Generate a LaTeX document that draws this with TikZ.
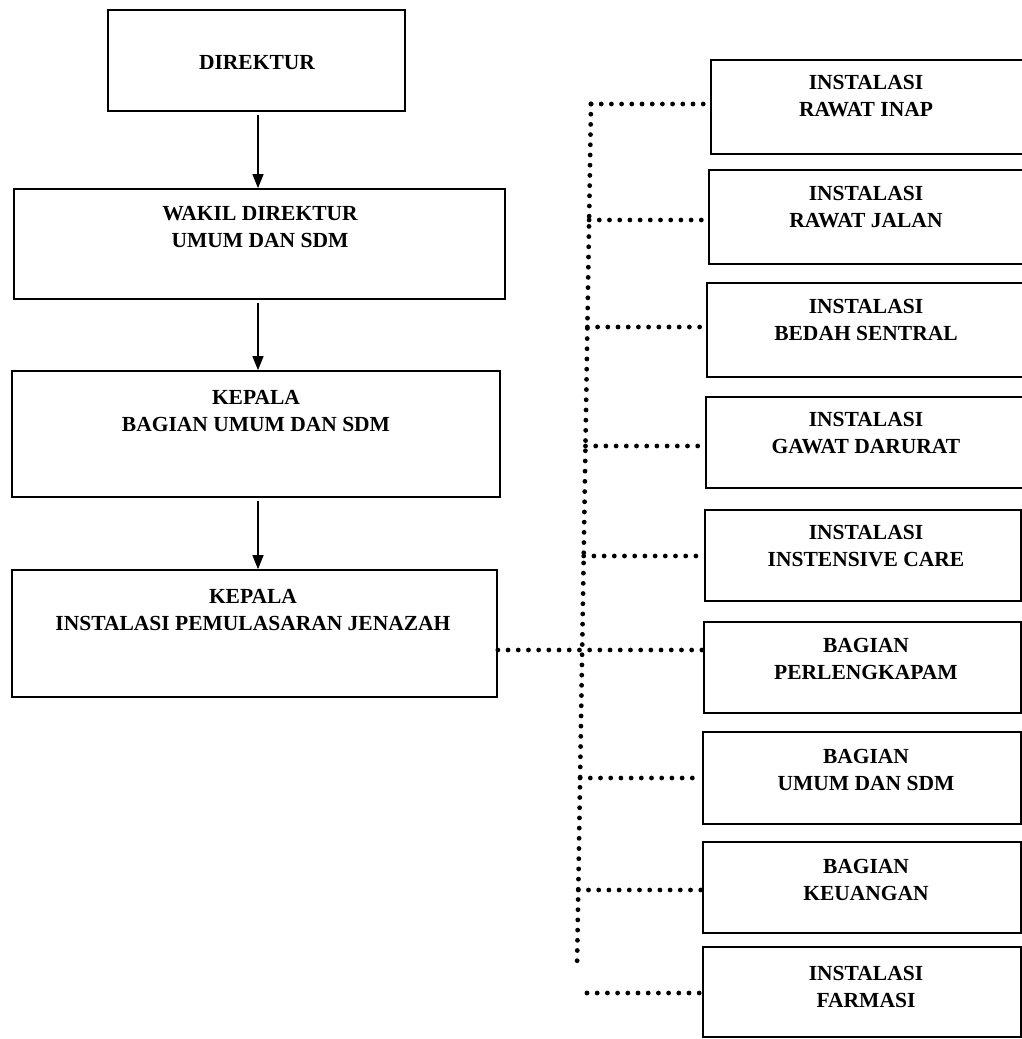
\documentclass[tikz,border=0pt]{standalone}
\usepackage{fontspec}
\setmainfont{Liberation Serif}
\usetikzlibrary{arrows.meta}
\tikzset{
  box/.style={draw, line width=1.7pt, rectangle, inner sep=0pt},
  lbl/.style={align=center, inner sep=0pt, font=\fontsize{21.5}{27}\selectfont\bfseries},
  arr/.style={line width=1.4pt, -{Triangle[length=14pt,width=11pt]}, shorten <=3pt},
  dotline/.style={line width=4.8pt, line cap=round, dash pattern=on 0pt off 10.2pt}
}
\begin{document}
\begin{tikzpicture}[x=1pt,y=-1pt]
\useasboundingbox (0,0) rectangle (1022,1039);
\fill[white] (0,0) rectangle (1022,1039);
\clip (0,0) rectangle (1022,1039);

% left column boxes
\node[box, minimum width=297pt, minimum height=101pt] (d) at (256.5,60.5) {};
\node[lbl] (td) at (257,63) {DIREKTUR};
\node[box, minimum width=491pt, minimum height=110pt] (w) at (259.5,244) {};
\node[lbl] (tw) at (260,227) {WAKIL DIREKTUR\\UMUM DAN SDM};
\node[box, minimum width=488pt, minimum height=126pt] (k1) at (256,434) {};
\node[lbl] (tk1) at (256,411) {KEPALA\\BAGIAN UMUM DAN SDM};
\node[box, minimum width=485pt, minimum height=127pt] (k2) at (254.5,633.5) {};
\node[lbl] (tk2) at (253,609.5) {KEPALA\\INSTALASI PEMULASARAN JENAZAH};

\coordinate (ax) at (258,0);
\draw[arr] (d.south -| ax) -- (w.north -| ax);
\draw[arr] (w.south -| ax) -- (k1.north -| ax);
\draw[arr] (k1.south -| ax) -- (k2.north -| ax);

% right column boxes
\node[box, minimum width=319pt, minimum height=94pt] (r1) at (870.5,107) {};
\node[lbl] (t1) at (866,96.5) {INSTALASI\\RAWAT INAP};
\node[box, minimum width=321pt, minimum height=94pt] (r2) at (869.5,217) {};
\node[lbl] (t2) at (866,207.5) {INSTALASI\\RAWAT JALAN};
\node[box, minimum width=323pt, minimum height=94pt] (r3) at (868.5,330) {};
\node[lbl] (t3) at (866,320) {INSTALASI\\BEDAH SENTRAL};
\node[box, minimum width=324pt, minimum height=91pt] (r4) at (868,442.5) {};
\node[lbl] (t4) at (866,433) {INSTALASI\\GAWAT DARURAT};
\node[box, minimum width=316pt, minimum height=91pt] (r5) at (863,555.5) {};
\node[lbl] (t5) at (866,546.5) {INSTALASI\\INSTENSIVE CARE};
\node[box, minimum width=317pt, minimum height=91pt] (r6) at (862.5,667.5) {};
\node[lbl] (t6) at (866,658.5) {BAGIAN\\PERLENGKAPAM};
\node[box, minimum width=318pt, minimum height=92pt] (r7) at (862,778) {};
\node[lbl] (t7) at (866,769.5) {BAGIAN\\UMUM DAN SDM};
\node[box, minimum width=318pt, minimum height=91pt] (r8) at (862,887.5) {};
\node[lbl] (t8) at (866,879.5) {BAGIAN\\KEUANGAN};
\node[box, minimum width=318pt, minimum height=90pt] (r9) at (862,992) {};
\node[lbl] (t9) at (866,986.5) {INSTALASI\\FARMASI};

% dotted trunk and branches
\coordinate (c1) at (591,104);
\coordinate (c2) at (589.1,220);
\coordinate (c3) at (587.4,327);
\coordinate (c4) at (585.5,446);
\coordinate (c5) at (583.7,556);
\coordinate (c6) at (582.2,650);
\coordinate (c7) at (580.1,778);
\coordinate (c8) at (578.3,890);
\coordinate (cb) at (577,969);
\coordinate (c9) at (587,993);

\draw[dotline] (c1) -- (cb);
\draw[dotline] (c1) -- (r1.west |- c1);
\draw[dotline] (c2) -- (r2.west |- c2);
\draw[dotline] (c3) -- (r3.west |- c3);
\draw[dotline] (c4) -- (r4.west |- c4);
\draw[dotline] (c5) -- (r5.west |- c5);
\draw[dotline] (k2.east |- c6) -- (c6) -- (r6.west |- c6);
\draw[dotline] (c7) -- (r7.west |- c7);
\draw[dotline] (c8) -- (r8.west |- c8);
\draw[dotline] (c9) -- (r9.west |- c9);
\end{tikzpicture}
\end{document}
